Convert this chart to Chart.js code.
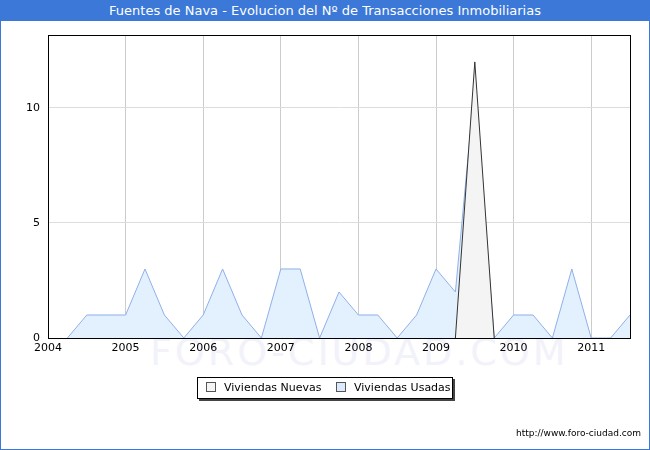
<!DOCTYPE html>
<html><head><meta charset="utf-8">
<script src="https://cdn.jsdelivr.net/npm/chart.js@4"></script>
<style>
body{margin:0;width:650px;height:450px;position:relative;font-family:"DejaVu Sans",sans-serif;background:#fff;overflow:hidden}
#frame{position:absolute;left:0;top:0;width:648px;height:448px;border:1px solid #3b78d8}
#title{position:absolute;left:0;top:0;width:650px;height:21px;background:#3b78d8;color:#fff;font-size:13px;text-align:center;line-height:21px}
#legend{position:absolute;left:197px;top:377px;width:254px;height:20px;border:1px solid #000;box-shadow:2px 2px 0 #444;font-size:11px;background:#fff}
.it{position:absolute;top:3px}
.bx{display:inline-block;width:8px;height:8px;border:1px solid #555;margin-right:8px;vertical-align:-1px}
#url{position:absolute;right:9px;top:428px;font-size:9px}
#wm{position:absolute;left:150px;top:330px;font-size:38px;color:#f2f2fa;letter-spacing:3px}
canvas{position:absolute;left:0;top:0}
</style></head><body>
<div id="wm">FORO-CIUDAD.COM</div>
<canvas id="c" width="650" height="450"></canvas>
<div id="frame"></div>
<div id="title">Fuentes de Nava - Evolucion del Nº de Transacciones Inmobiliarias</div>
<div id="legend">
 <span class="it" style="left:8px"><span class="bx" style="background:#f4f4f4"></span>Viviendas Nuevas</span>
 <span class="it" style="left:138px"><span class="bx" style="background:#dbeafc"></span>Viviendas Usadas</span>
</div>
<div id="url">http://www.foro-ciudad.com</div>
<script>
// trimestres desde 2004
const quarters = [2004,2004.25,2004.5,2004.75,2005,2005.25,2005.5,2005.75,2006,2006.25,2006.5,2006.75,2007,2007.25,2007.5,2007.75,2008,2008.25,2008.5,2008.75,2009,2009.25,2009.5,2009.75,2010,2010.25,2010.5,2010.75,2011,2011.25,2011.5];
const usadas = [null,0,1,1,1,3,1,0,1,3,1,0,3,3,0,2,1,1,0,1,3,2,11,0,1,1,0,3,0,0,1];
const nuevas = [null,null,null,null,null,null,null,null,null,null,null,null,null,null,null,null,null,null,null,null,null,0,12,0,null,null,null,null,null,null,null];
const xTicks = [2004,2005,2006,2007,2008,2009,2010,2011];

const pts = arr => quarters.map((q,i)=>({x:q,y:arr[i]}));
const font = {family:'DejaVu Sans',size:11};

new Chart(document.getElementById('c'), {
  type:'line',
  data:{datasets:[
    {data:pts(nuevas),borderColor:'#333',borderWidth:1,backgroundColor:'#f4f4f4',fill:'origin',pointRadius:0,tension:0,spanGaps:false},
    {data:pts(usadas),borderColor:'#8fb0e8',borderWidth:1,backgroundColor:'#e3f0fd',fill:'origin',pointRadius:0,tension:0,spanGaps:false}
  ]},
  options:{
    responsive:false,animation:false,
    layout:{padding:{top:35,right:20,bottom:95,left:0}},
    plugins:{legend:{display:false},tooltip:{enabled:false}},
    scales:{
      x:{type:'linear',min:2004,max:2011.5,
        afterBuildTicks:s=>{s.ticks=xTicks.map(v=>({value:v}))},
        afterFit:s=>{s.height=17},
        grid:{color:'#ccc',drawTicks:false},border:{color:'#000',width:1},
        ticks:{color:'#000',font,padding:4,callback:v=>String(v)}},
      y:{min:0,max:13.17,
        afterBuildTicks:s=>{s.ticks=[0,5,10].map(v=>({value:v}))},
        afterFit:s=>{s.width=48},
        grid:{color:'#ddd',drawTicks:false},border:{color:'#000',width:1},
        ticks:{color:'#000',font,padding:8}}
    }
  },
  plugins:[{id:'box',afterDraw(ch){const a=ch.chartArea,c=ch.ctx;c.save();c.strokeStyle='#000';c.lineWidth=1;c.strokeRect(a.left+0.5,a.top+0.5,a.right-a.left,a.bottom-a.top);c.restore();}}]
});
</script>
</body></html>
